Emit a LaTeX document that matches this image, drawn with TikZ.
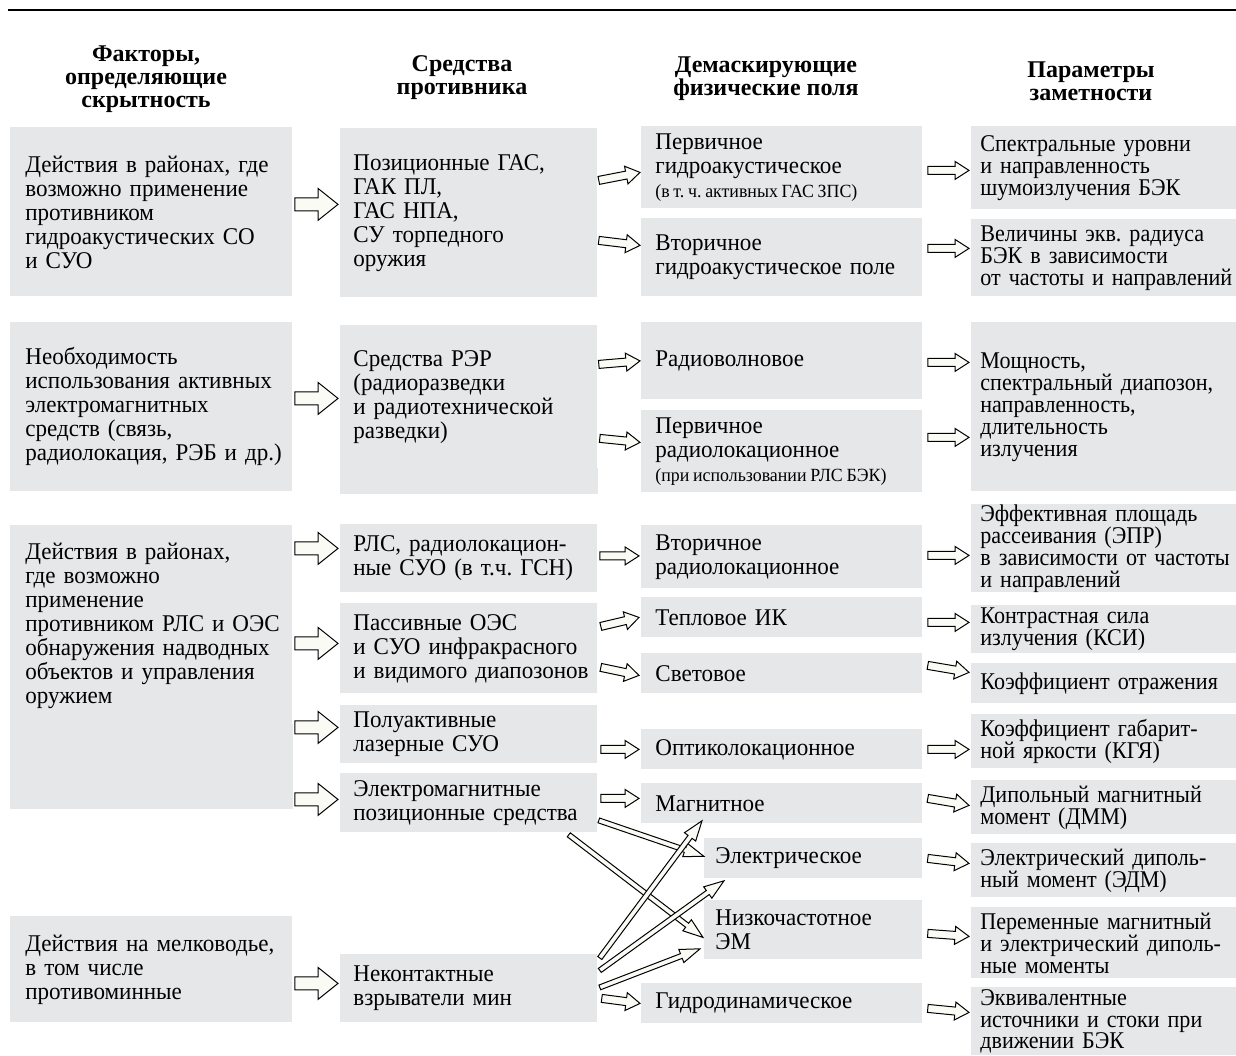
\documentclass[tikz,border=0pt]{standalone}
\usepackage{fontspec}
\setmainfont{Liberation Serif}
\newfontfamily\boxfont{Liberation Serif}[FakeStretch=0.96]
\newfontfamily\parfont{Liberation Serif}[FakeStretch=0.92]
\usetikzlibrary{calc}
\definecolor{boxgray}{HTML}{E6E7E8}
\definecolor{arrowfill}{HTML}{FBFBF6}
\frenchspacing
\newcommand\padleft[1]{\parindent=0pt\leftskip=#1\rightskip=0pt plus 1fil\relax}

\tikzset{
  box/.style={fill=boxgray, anchor=north west, inner xsep=0pt, inner ysep=0pt,
    font=\boxfont\fontsize{12}{12}\selectfont},
  colA/.style={box, minimum width=141pt, text width=141pt,
    execute at begin node=\padleft{7.5pt}},
  colB/.style={box, minimum width=128.5pt, text width=128.5pt,
    execute at begin node=\padleft{6.5pt}},
  colC/.style={box, minimum width=140.5pt, text width=140.5pt,
    execute at begin node=\padleft{7pt}},
  colCn/.style={box, minimum width=109pt, text width=109pt,
    execute at begin node=\padleft{5.5pt}},
  colD/.style={box, minimum width=132.5pt, text width=132.5pt,
    execute at begin node=\padleft{4.5pt},
    font=\parfont\fontsize{12}{11}\selectfont},
  head/.style={align=center, font=\fontsize{12}{11.5}\selectfont\bfseries},
  arrowline/.style={draw=black, fill=arrowfill, line width=.5pt, line join=miter},
}
\newcommand\note[1]{{\fontsize{9.3}{10}\selectfont\spaceskip=.2em plus .05em #1}}
\newcommand\fatarrow[5]{%
  \path #4 coordinate (fa-s) #5 coordinate (fa-e);
  \draw[arrowline] ($(fa-s)!#1!90:(fa-e)$)
    -- ($(fa-e)!#3!(fa-s)!#1!90:(fa-e)$) -- ($(fa-e)!#3!(fa-s)!#2!90:(fa-e)$)
    -- (fa-e)
    -- ($(fa-e)!#3!(fa-s)!#2!-90:(fa-e)$) -- ($(fa-e)!#3!(fa-s)!#1!-90:(fa-e)$)
    -- ($(fa-s)!#1!-90:(fa-e)$) -- cycle;}
\newcommand\bigarrow[2]{\fatarrow{3.25pt}{8pt}{10pt}{#1}{#2}}
\newcommand\midarrow[2]{\fatarrow{2pt}{4.5pt}{7pt}{#1}{#2}}
\newcommand\thinarrow[2]{\fatarrow{1.25pt}{3.5pt}{10pt}{#1}{#2}}

\begin{document}
\begin{tikzpicture}[x=.5pt,y=-.5pt]
  \useasboundingbox (0,0) rectangle (1236,1055);
  \draw[line width=1pt] (8,10) -- (1236,10);

  \node[head] (H1) at (146,79) {Факторы,\\определяющие\\скрытность};
  \node[head] (H2) at (462,78) {Средства\\противника};
  \node[head] (H3) at (766,79) {Демаскирующие\\физические поля};
  \node[head] (H4) at (1091,81) {Параметры\\заметности};

  \node[colA, minimum height=84.5pt] (A1) at (10,127)
    {Действия в районах, где\\возможно применение\\противником\\гидроакустических СО\\и СУО};
  \node[colA, minimum height=84.5pt] (A2) at (10,322)
    {Необходимость\\использования активных\\электромагнитных\\средств (связь,\\радиолокация, РЭБ и др.)};
  \node[colA, minimum height=100pt] (A3) at (10,525)
    {Действия в районах,\\где возможно\\применение\\противником РЛС и ОЭС\\обнаружения надводных\\объектов и управления\\оружием};
  \fill[boxgray] ($(A3.south west)+(0,-2)$) rectangle ($(A3.south east)+(0,83)$);
  \node[colA, minimum height=53pt] (A4) at (10,916)
    {Действия на мелководье,\\в том числе\\противоминные};

  \node[colB, minimum height=84.5pt] (B1) at (340,128)
    {Позиционные ГАС,\\ГАК ПЛ,\\ГАС НПА,\\СУ торпедного\\оружия};
  \node[colB, minimum height=72pt] (B2) at (340,325)
    {Средства РЭР\\(радиоразведки\\и радиотехнической\\разведки)};
  \fill[boxgray] ($(B2.south west)+(0,-2)$) rectangle ($(B2.south east)+(0,24)$);
  \node[colB, minimum height=34pt] (B3a) at (340,524)
    {РЛС, радиолокацион-\\ные СУО (в т.ч. ГСН)};
  \node[colB, minimum height=45pt] (B3b) at (340,603)
    {Пассивные ОЭС\\и СУО инфракрасного\\и видимого диапозонов};
  \node[colB, minimum height=29pt] (B3c) at (340,705)
    {Полуактивные\\лазерные СУО};
  \node[colB, minimum height=29.5pt] (B3d) at (340,773)
    {Электромагнитные\\позиционные средства};
  \node[colB, minimum height=34pt] (B4) at (340,954)
    {Неконтактные\\взрыватели мин};

  \node[colC, minimum height=41pt] (C1a) at (641,126)
    {Первичное\\гидроакустическое\\\note{(в т. ч. активных ГАС ЗПС)}};
  \node[colC, minimum height=39pt] (C1b) at (641,218)
    {Вторичное\\гидроакустическое поле};
  \node[colC, minimum height=38.5pt] (C2a) at (641,322) {Радиоволновое};
  \node[colC, minimum height=41pt] (C2b) at (641,410)
    {Первичное\\радиолокационное\\\note{(при использовании РЛС БЭК)}};
  \node[colC, minimum height=31.5pt] (C3a) at (641,525)
    {Вторичное\\радиолокационное};
  \node[colC, minimum height=20pt] (C3b) at (641,597) {Тепловое ИК};
  \node[colC, minimum height=20pt] (C3c) at (641,653) {Световое};
  \node[colC, minimum height=20pt] (C3d) at (641,729) {Оптиколокационное};
  \node[colC, minimum height=20pt] (C3e) at (641,783) {Магнитное};
  \node[colCn, minimum height=20pt] (C3f) at (704,838) {Электрическое};
  \node[colCn, minimum height=29.5pt] (C3g) at (704,900) {Низкочастотное\\ЭМ};
  \node[colC, minimum height=20pt] (C3h) at (641,983) {Гидродинамическое};

  \node[colD, minimum height=41.5pt] (D1a) at (971,126)
    {Спектральные уровни\\и направленность\\шумоизлучения БЭК};
  \node[colD, minimum height=38.5pt] (D1b) at (971,219)
    {Величины экв. радиуса\\БЭК в зависимости\\от частоты и направлений};
  \node[colD, minimum height=84.5pt] (D2) at (971,322)
    {Мощность,\\спектральный диапозон,\\направленность,\\длительность\\излучения};
  \node[colD, minimum height=44pt] (D3a) at (971,504)
    {Эффективная площадь\\рассеивания (ЭПР)\\в зависимости от частоты\\и направлений};
  \node[colD, minimum height=24pt] (D3b) at (971,605)
    {Контрастная сила\\излучения (КСИ)};
  \node[colD, minimum height=20pt] (D3c) at (971,663) {Коэффициент отражения};
  \node[colD, minimum height=27pt] (D3d) at (971,714)
    {Коэффициент габарит-\\ной яркости (КГЯ)};
  \node[colD, minimum height=27pt] (D3e) at (971,780)
    {Дипольный магнитный\\момент (ДММ)};
  \node[colD, minimum height=27pt] (D3f) at (971,843)
    {Электрический диполь-\\ный момент (ЭДМ)};
  \node[colD, minimum height=35.5pt] (D3g) at (971,907)
    {Переменные магнитный\\и электрический диполь-\\ные моменты};
  \node[colD, minimum height=34pt, font=\parfont\fontsize{12}{10.6}\selectfont] (D3h) at (971,987)
    {Эквивалентные\\источники и стоки при\\движении БЭК};

  \bigarrow{($(A1.east)+(2,-7.5)$)}{($(B1.west)+(-2,-8.5)$)}
  \bigarrow{($(A2.east)+(2,-8.5)$)}{($(B2.west)+(-2,1)$)}
  \bigarrow{($(A3.east |- B3a.west)+(2,-10)$)}{($(B3a.west)+(-2,-10)$)}
  \bigarrow{($(A3.east |- B3b.west)+(2,-5)$)}{($(B3b.west)+(-2,-5)$)}
  \bigarrow{($(A3.east |- B3c.west)+(2,-7)$)}{($(B3c.west)+(-2,-7)$)}
  \bigarrow{($(A3.east |- B3d.west)+(2,-3.5)$)}{($(B3d.west)+(-2,-3.5)$)}
  \bigarrow{($(A4.east |- B4.west)+(2,-5)$)}{($(B4.west)+(-2,-5)$)}

  \midarrow{($(B1.east |- C1a.west)+(1,13)$)}{($(C1a.west)+(-1,5)$)}
  \midarrow{($(B1.east |- C1b.west)+(1,-17)$)}{($(C1b.west)+(-1,-12)$)}
  \midarrow{($(B2.east |- C2a.west)+(1,3.5)$)}{($(C2a.west)+(-1,0)$)}
  \midarrow{($(B2.east |- C2b.west)+(2,-13)$)}{($(C2b.west)+(-1,-9)$)}
  \midarrow{($(B3a.east |- C3a.west)+(2,-1)$)}{($(C3a.west)+(-2,-1)$)}
  \midarrow{($(B3b.east |- C3b.west)+(3,9)$)}{($(C3b.west)+(-2,0)$)}
  \midarrow{($(B3b.east |- C3c.west)+(3,-6)$)}{($(C3c.west)+(-2,2)$)}
  \midarrow{($(B3c.east |- C3d.west)+(3,0)$)}{($(C3d.west)+(-2,0)$)}
  \midarrow{($(B3d.east |- C3e.west)+(3,-5)$)}{($(C3e.west)+(-2,-5)$)}
  \midarrow{($(B4.east |- C3h.west)+(4,-5)$)}{($(C3h.west)+(-1,0)$)}

  \midarrow{($(C1a.east)+(5,3)$)}{($(D1a.west)+(-2,2.5)$)}
  \midarrow{($(C1b.east)+(5,-9)$)}{($(D1b.west)+(-2,-9.5)$)}
  \midarrow{($(C2a.east)+(5,1.5)$)}{($(D2.west)+(-2,-44.5)$)}
  \midarrow{($(C2b.east)+(5,-14)$)}{($(D2.west)+(-2,30.5)$)}
  \midarrow{($(C3a.east)+(5,-1.5)$)}{($(D3a.west)+(-2,7)$)}
  \midarrow{($(C3b.east)+(5,5)$)}{($(D3b.west)+(-2,-7)$)}
  \midarrow{($(C3c.east)+(5,-8)$)}{($(D3c.west)+(-2,-11)$)}
  \midarrow{($(C3d.east)+(5,0)$)}{($(D3d.west)+(-2,8)$)}
  \midarrow{($(C3e.east)+(5,-5)$)}{($(D3e.west)+(-2,-2)$)}
  \midarrow{($(C3f.east)+(5,0)$)}{($(D3f.west)+(-2,-7)$)}
  \midarrow{($(C3g.east)+(5,3.5)$)}{($(D3g.west)+(-2,-6.5)$)}
  \midarrow{($(C3h.east)+(5,5)$)}{($(D3h.west)+(-2,-9)$)}

  \thinarrow{($(B3d.east)+(1,17.5)$)}{($(C3f.west)+(0,-2)$)}
  \thinarrow{($(B3d.south east)+(-29,2)$)}{($(C3g.west)+(-1,7.5)$)}
  \thinarrow{($(B4.north east)+(2,4)$)}{($(C3e.south west)+(61,-3)$)}
  \thinarrow{($(B4.east)+(2,-18)$)}{($(C3f.south west)+(20,2)$)}
  \thinarrow{($(B4.east)+(2,-1)$)}{($(C3g.south west)+(-4,-11)$)}
\end{tikzpicture}
\end{document}
